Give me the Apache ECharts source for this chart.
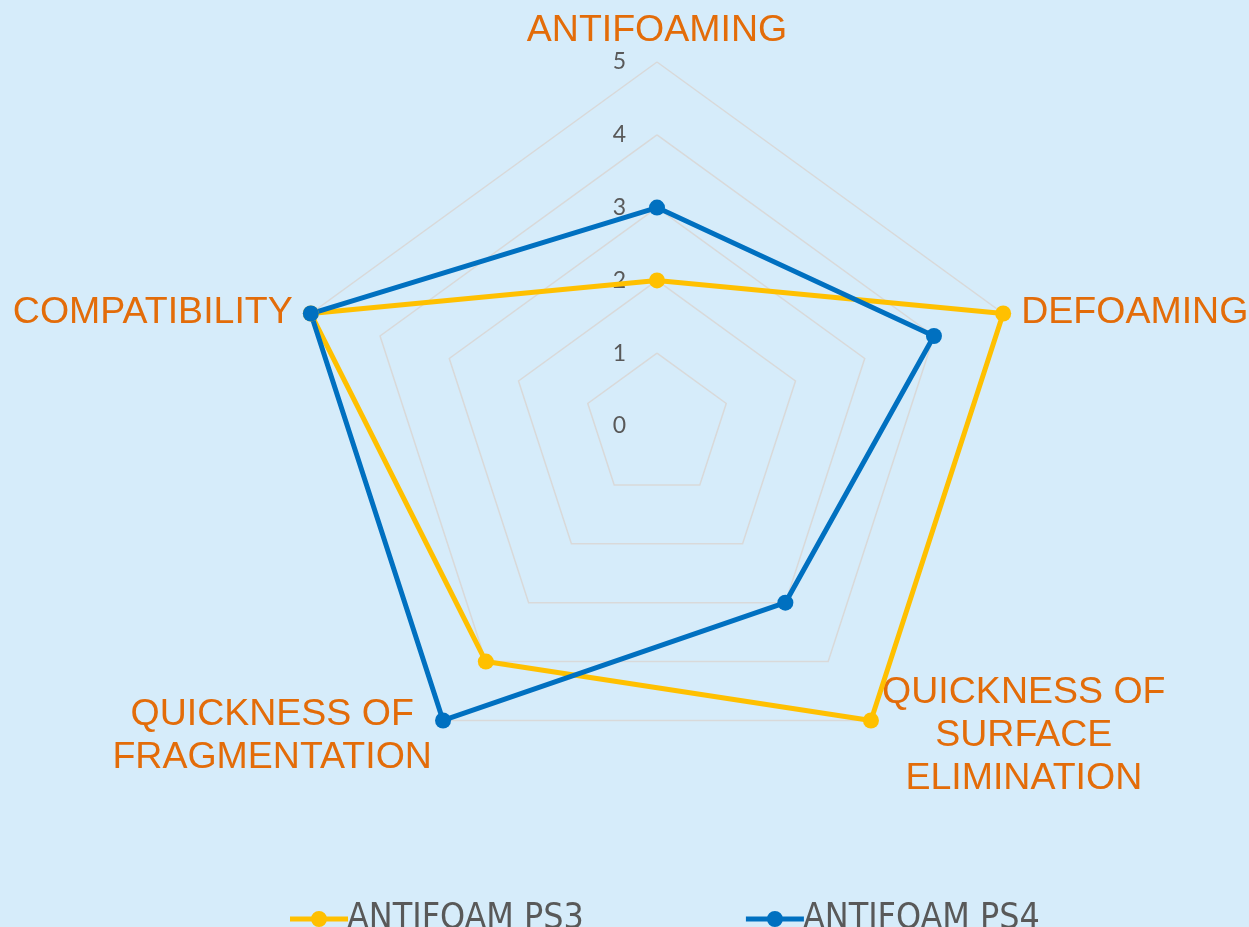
<!DOCTYPE html>
<html><head><meta charset="utf-8">
<script src="https://cdn.jsdelivr.net/npm/echarts@6/dist/echarts.min.js"></script>
<style>html,body{margin:0;padding:0;background:#D6ECFA;} #c{width:1249px;height:927px;}</style>
</head><body><div id="c"></div>
<script>
const categories = ['ANTIFOAMING', 'DEFOAMING', 'QUICKNESS OF\nSURFACE\nELIMINATION', 'QUICKNESS OF\nFRAGMENTATION', 'COMPATIBILITY'];
const seriesNames = ['ANTIFOAM PS3', 'ANTIFOAM PS4'];
const ps3 = [2, 5, 5, 4, 5];
const ps4 = [3, 4, 3, 5, 5];
const tickLabels = ['0', '1', '2', '3', '4', '5'];
const axisMin = 0;
const axisMax = 5;
const colors = ['#FFC000', '#0070C0'];

// ECharts places indicators counterclockwise; the reference runs clockwise.
const order = [0, 4, 3, 2, 1];
const indicators = order.map((i, k) => {
  const ind = { name: categories[i], min: axisMin, max: axisMax };
  if (k === 0) ind.axisLabel = { show: true };
  return ind;
});
const reorder = arr => order.map(i => arr[i]);

// legend icon: line with a round marker in the middle (58 x 16 box)
const lineMarkerIcon = 'path://M0,5.5H58V10.5H0Z M21,8A8,8 0 1,1 37,8A8,8 0 1,1 21,8Z';

const nameFont = '"Liberation Sans", Arial, sans-serif';
const chart = echarts.init(document.getElementById('c'));
chart.setOption({
  backgroundColor: '#D6ECFA',
  animation: false,
  color: colors,
  legend: {
    top: 896,
    left: 285,
    itemGap: 162,
    itemWidth: 58,
    itemHeight: 16,
    icon: lineMarkerIcon,
    textStyle: { fontFamily: '"Liberation Sans Narrow", "DejaVu Sans Condensed", sans-serif', fontSize: 35.5, color: '#595959', padding: [0, 0, 0, -6] },
    data: seriesNames
  },
  radar: {
    center: [657, 426],
    radius: 364,
    startAngle: 90,
    shape: 'polygon',
    splitNumber: 5,
    nameGap: 19,
    axisName: {
      formatter: name => {
        const lines = name.split('\n');
        if (lines.length === 1) return '{s|' + name + '}';
        return lines.map(l => '{c|' + l + '}').join('\n');
      },
      rich: {
        c: { align: 'center', fontSize: 37.5, fontFamily: nameFont, color: '#E36C09', lineHeight: 43 },
        s: { align: 'center', fontSize: 37.5, fontFamily: nameFont, color: '#E36C09', lineHeight: 34, padding: [10, 0, 0, 0] }
      }
    },
    axisLine: { show: false },
    axisTick: { show: false },
    axisLabel: {
      show: false,
      formatter: v => tickLabels[Math.round(v)],
      fontFamily: 'Lato, sans-serif',
      fontSize: 23,
      color: '#595959',
      margin: 31
    },
    splitLine: { lineStyle: { color: '#D9D9D9', width: 1.5 } },
    splitArea: { show: false },
    indicator: indicators
  },
  series: [{
    type: 'radar',
    symbol: 'circle',
    symbolSize: 16,
    lineStyle: { width: 5 },
    data: [
      { name: seriesNames[0], value: reorder(ps3), itemStyle: { color: colors[0] }, lineStyle: { color: colors[0], width: 5 } },
      { name: seriesNames[1], value: reorder(ps4), itemStyle: { color: colors[1] }, lineStyle: { color: colors[1], width: 5 } }
    ]
  }]
});
</script></body></html>
